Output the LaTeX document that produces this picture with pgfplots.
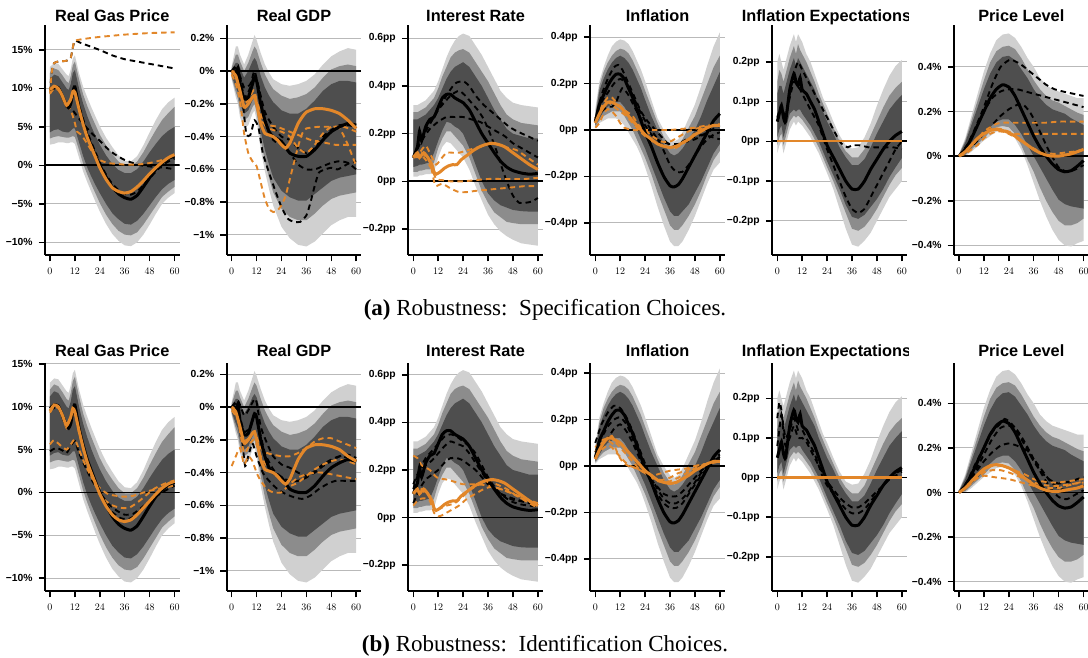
\documentclass[border=0pt]{standalone}
\usepackage{pgfplots}
\pgfplotsset{compat=1.18}
\usepackage{pgfplotstable}
\usepgfplotslibrary{fillbetween}
\usepackage{fontspec}
\setmainfont{Liberation Serif}
\newfontfamily\hv{Liberation Sans}

\definecolor{bandA}{RGB}{208,208,208}
\definecolor{bandB}{RGB}{140,140,140}
\definecolor{bandC}{RGB}{78,78,78}
\definecolor{orng}{RGB}{226,135,42}
\definecolor{gridg}{RGB}{185,185,185}

\pgfplotsset{
  irf/.style={
    scale only axis, width=134.5pt, anchor=south west,
    xmin=-2.4, xmax=62.4,
    axis x line*=bottom, axis y line*=left,
    axis line style={line width=2pt,-},
    every outer x axis line/.append style={-},
    every outer y axis line/.append style={-},
    xtick={0,12,24,36,48,60},
    tick align=outside, major tick length=6.5pt,
    tick style={line width=1.5pt,black},
    ymajorgrids, grid style={line width=1pt,gridg},
    ticklabel style={font=\hv\bfseries\fontsize{10.3}{12}\selectfont},
    xticklabel style={yshift=-3pt},
    yticklabel style={xshift=-2.5pt},
  },
  bd/.style={black, line width=1.9pt, dash pattern=on 5.5pt off 4pt, smooth, tension=0.35},
  od/.style={orng, line width=1.9pt, dash pattern=on 5.5pt off 4pt, smooth, tension=0.35},
  bs/.style={black, line width=3pt, smooth, tension=0.35},
  os/.style={orng, line width=3pt, smooth, tension=0.35},
}

\newcommand{\bands}[1]{%
  \addplot[draw=none, name path=A1] table[x=x,y=a]{#1};
  \addplot[draw=none, name path=A6] table[x=x,y=f]{#1};
  \addplot[fill=bandA, draw=none] fill between[of=A1 and A6];
  \addplot[draw=none, name path=A2] table[x=x,y=b]{#1};
  \addplot[draw=none, name path=A5] table[x=x,y=e]{#1};
  \addplot[fill=bandB, draw=none] fill between[of=A2 and A5];
  \addplot[draw=none, name path=A3] table[x=x,y=c]{#1};
  \addplot[draw=none, name path=A4] table[x=x,y=d]{#1};
  \addplot[fill=bandC, draw=none] fill between[of=A3 and A4];
  \addplot[black, line width=1.8pt] coordinates {(-2.4,0) (62.4,0)};
}

% ---- band tables: x, light low, mid low, dark low, dark high, mid high, light high, median
\pgfplotstableread{
x a b c d e f m
0 2.7 3.5 4.3 11.2 12.0 12.8 9.8
2 2.8 3.7 4.6 11.8 12.6 13.3 10.2
4 3.0 3.8 4.7 11.6 12.4 13.2 10.1
6 3.0 3.7 4.4 10.8 11.7 12.5 9.0
8 2.9 3.6 4.3 10.0 10.9 11.8 7.8
9 2.9 3.6 4.3 9.8 10.7 11.6 7.5
10 3.0 3.7 4.5 10.6 11.6 12.5 8.0
11 3.0 3.8 4.8 12.0 13.0 13.9 9.5
12 2.8 3.7 4.8 12.4 13.5 14.3 10.2
14 1.0 2.0 3.0 10.0 11.2 12.0 7.5
16 -0.8 0.2 1.2 8.0 9.2 10.2 5.5
18 -2.2 -1.2 -0.3 6.4 7.7 8.8 3.8
20 -3.5 -2.5 -1.5 5.0 6.4 7.5 2.5
22 -4.8 -3.7 -2.6 3.8 5.2 6.3 1.2
24 -6.0 -4.9 -3.6 2.7 4.0 5.1 0.0
27 -7.6 -6.4 -5.0 1.3 2.6 3.6 -1.5
30 -8.9 -7.6 -6.2 0.2 1.5 2.4 -2.8
33 -9.8 -8.5 -7.0 -0.6 0.5 1.3 -3.7
36 -10.4 -9.0 -7.6 -1.0 -0.1 0.6 -4.2
39 -10.5 -9.1 -7.7 -1.0 -0.1 0.5 -4.4
42 -10.0 -8.7 -7.2 -0.5 0.5 1.2 -3.9
45 -9.0 -7.7 -6.3 0.5 1.7 2.6 -2.8
48 -7.7 -6.5 -5.2 1.7 3.2 4.3 -1.6
51 -6.3 -5.3 -4.1 2.8 4.6 5.9 -0.5
54 -5.0 -4.1 -3.1 3.8 5.9 7.3 0.3
57 -4.2 -3.4 -2.4 4.5 6.8 8.2 0.9
60 -3.6 -2.8 -1.9 5.0 7.6 8.8 1.2
}\gasB

\pgfplotstableread{
x a b c d e f m
0 -0.05 -0.04 -0.03 0.01 0.02 0.03 0.0
2 -0.16 -0.13 -0.10 0.05 0.10 0.15 -0.02
3 -0.20 -0.17 -0.13 0.05 0.10 0.15 0.02
4 -0.28 -0.24 -0.20 0.02 0.06 0.10 -0.08
6 -0.35 -0.30 -0.26 -0.04 0.00 0.04 -0.17
8 -0.33 -0.28 -0.24 0.00 0.05 0.10 -0.16
10 -0.26 -0.22 -0.18 0.06 0.12 0.18 -0.08
11 -0.24 -0.20 -0.16 0.08 0.15 0.22 -0.04
12 -0.30 -0.25 -0.21 0.06 0.13 0.19 -0.06
14 -0.48 -0.42 -0.37 -0.03 0.05 0.11 -0.20
16 -0.61 -0.55 -0.48 -0.10 -0.02 0.04 -0.30
18 -0.72 -0.65 -0.57 -0.15 -0.07 -0.01 -0.37
20 -0.82 -0.74 -0.65 -0.19 -0.11 -0.05 -0.40
24 -0.95 -0.84 -0.73 -0.24 -0.15 -0.08 -0.43
28 -1.02 -0.89 -0.77 -0.26 -0.17 -0.09 -0.50
32 -1.06 -0.91 -0.79 -0.26 -0.16 -0.08 -0.52
36 -1.07 -0.91 -0.79 -0.23 -0.14 -0.06 -0.52
40 -1.04 -0.87 -0.75 -0.18 -0.10 -0.02 -0.48
44 -0.99 -0.82 -0.71 -0.12 -0.04 0.04 -0.42
48 -0.94 -0.78 -0.67 -0.08 0.01 0.09 -0.37
52 -0.91 -0.76 -0.65 -0.06 0.03 0.12 -0.34
56 -0.89 -0.75 -0.64 -0.06 0.04 0.14 -0.32
60 -0.89 -0.74 -0.63 -0.07 0.03 0.13 -0.33
}\gdpB

\pgfplotstableread{
x a b c d e f m
0 0.02 0.04 0.06 0.26 0.29 0.32 0.10
2 0.02 0.04 0.065 0.26 0.29 0.32 0.145
3 0.025 0.045 0.07 0.265 0.295 0.325 0.21
4 0.025 0.045 0.07 0.27 0.30 0.33 0.17
6 0.03 0.05 0.075 0.28 0.31 0.34 0.23
8 0.03 0.05 0.08 0.30 0.33 0.36 0.26
10 0.04 0.08 0.12 0.32 0.35 0.38 0.27
12 0.10 0.14 0.17 0.35 0.39 0.42 0.31
14 0.145 0.18 0.215 0.39 0.44 0.47 0.35
16 0.166 0.21 0.25 0.43 0.48 0.52 0.365
18 0.16 0.21 0.245 0.46 0.52 0.56 0.365
20 0.14 0.19 0.23 0.48 0.54 0.59 0.35
22 0.12 0.17 0.22 0.49 0.55 0.61 0.34
24 0.10 0.15 0.20 0.50 0.555 0.62 0.33
27 0.05 0.10 0.14 0.48 0.54 0.61 0.30
30 -0.02 0.03 0.07 0.44 0.50 0.57 0.25
33 -0.08 -0.04 0.00 0.40 0.46 0.53 0.20
36 -0.14 -0.09 -0.05 0.35 0.42 0.48 0.16
39 -0.18 -0.13 -0.08 0.30 0.37 0.43 0.12
42 -0.21 -0.15 -0.10 0.26 0.32 0.38 0.085
45 -0.23 -0.17 -0.11 0.22 0.28 0.35 0.06
48 -0.245 -0.175 -0.12 0.20 0.26 0.33 0.045
52 -0.26 -0.18 -0.125 0.19 0.245 0.32 0.035
56 -0.265 -0.18 -0.127 0.18 0.24 0.315 0.03
60 -0.27 -0.18 -0.127 0.18 0.235 0.31 0.033
}\irB

\pgfplotstableread{
x a b c d e f m
0 0.01 0.015 0.02 0.05 0.07 0.09 0.035
2 0.03 0.04 0.05 0.17 0.19 0.21 0.11
4 0.04 0.06 0.08 0.22 0.25 0.27 0.15
6 0.05 0.07 0.10 0.26 0.29 0.32 0.19
8 0.05 0.08 0.11 0.29 0.32 0.36 0.22
10 0.05 0.08 0.12 0.31 0.34 0.38 0.24
12 0.04 0.08 0.12 0.32 0.35 0.39 0.24
14 0.02 0.06 0.10 0.31 0.345 0.385 0.22
16 -0.01 0.03 0.07 0.29 0.33 0.37 0.18
18 -0.04 0.00 0.04 0.26 0.30 0.34 0.14
20 -0.07 -0.04 0.00 0.22 0.26 0.30 0.09
22 -0.11 -0.08 -0.04 0.18 0.22 0.26 0.04
24 -0.16 -0.12 -0.08 0.13 0.17 0.21 -0.01
27 -0.24 -0.19 -0.15 0.06 0.10 0.13 -0.07
30 -0.33 -0.27 -0.22 0.00 0.03 0.05 -0.14
33 -0.41 -0.34 -0.29 -0.06 -0.03 0.00 -0.20
36 -0.48 -0.41 -0.35 -0.10 -0.07 -0.04 -0.24
38 -0.50 -0.43 -0.37 -0.11 -0.08 -0.05 -0.245
40 -0.50 -0.43 -0.37 -0.10 -0.07 -0.04 -0.235
42 -0.48 -0.41 -0.35 -0.08 -0.04 -0.01 -0.21
45 -0.43 -0.37 -0.32 -0.04 0.01 0.05 -0.16
48 -0.37 -0.32 -0.27 0.00 0.06 0.11 -0.11
51 -0.30 -0.26 -0.22 0.06 0.13 0.19 -0.06
54 -0.23 -0.19 -0.16 0.13 0.20 0.28 -0.01
57 -0.17 -0.13 -0.10 0.19 0.27 0.36 0.04
60 -0.14 -0.09 -0.06 0.25 0.32 0.42 0.07
}\infB

\pgfplotstableread{
x a b c d e f m
0 -0.03 -0.01 0.01 0.12 0.15 0.20 0.05
1 -0.01 0.01 0.03 0.14 0.18 0.22 0.07
2 0.00 0.02 0.04 0.14 0.17 0.20 0.09
3 -0.03 -0.01 0.01 0.12 0.15 0.18 0.06
4 -0.01 0.01 0.03 0.14 0.17 0.20 0.05
6 0.03 0.05 0.07 0.18 0.21 0.24 0.13
8 0.05 0.065 0.08 0.21 0.24 0.27 0.17
9 0.04 0.06 0.075 0.19 0.22 0.25 0.15
10 0.05 0.065 0.08 0.21 0.245 0.27 0.14
11 0.045 0.06 0.08 0.20 0.23 0.26 0.16
12 0.04 0.055 0.07 0.19 0.22 0.25 0.13
14 0.025 0.04 0.055 0.17 0.20 0.22 0.12
16 0.01 0.025 0.04 0.15 0.175 0.20 0.10
18 -0.01 0.005 0.02 0.13 0.15 0.17 0.08
20 -0.03 -0.015 0.00 0.10 0.12 0.14 0.05
22 -0.055 -0.04 -0.025 0.075 0.095 0.11 0.02
24 -0.08 -0.065 -0.05 0.05 0.07 0.088 -0.01
27 -0.12 -0.10 -0.085 0.02 0.035 0.05 -0.04
30 -0.17 -0.14 -0.12 -0.015 0.00 0.015 -0.07
33 -0.22 -0.18 -0.16 -0.04 -0.025 -0.01 -0.10
36 -0.26 -0.22 -0.19 -0.06 -0.04 -0.018 -0.12
39 -0.265 -0.225 -0.195 -0.06 -0.04 -0.015 -0.12
42 -0.25 -0.215 -0.185 -0.045 -0.02 0.01 -0.10
45 -0.23 -0.195 -0.165 -0.015 0.015 0.045 -0.07
48 -0.20 -0.17 -0.145 0.02 0.05 0.09 -0.045
51 -0.17 -0.14 -0.12 0.05 0.085 0.13 -0.02
54 -0.14 -0.11 -0.09 0.08 0.115 0.165 0.00
57 -0.12 -0.085 -0.065 0.10 0.135 0.19 0.015
60 -0.10 -0.067 -0.042 0.117 0.15 0.205 0.025
}\ieB

\pgfplotstableread{
x a b c d e f m
0 0.0 0.0 0.0 0.005 0.008 0.01 0.0
3 0.0 0.005 0.01 0.06 0.07 0.08 0.03
6 0.02 0.03 0.04 0.14 0.16 0.18 0.08
9 0.045 0.055 0.065 0.22 0.25 0.28 0.14
12 0.07 0.08 0.10 0.30 0.34 0.38 0.20
15 0.09 0.11 0.13 0.37 0.42 0.46 0.26
18 0.11 0.13 0.155 0.42 0.47 0.52 0.30
21 0.115 0.135 0.165 0.445 0.49 0.545 0.32
24 0.11 0.13 0.165 0.45 0.495 0.55 0.31
27 0.08 0.10 0.14 0.43 0.48 0.53 0.27
30 0.03 0.05 0.10 0.39 0.44 0.49 0.21
33 -0.04 -0.015 0.05 0.35 0.39 0.44 0.15
36 -0.12 -0.07 0.00 0.30 0.34 0.40 0.09
39 -0.20 -0.14 -0.05 0.26 0.30 0.35 0.04
42 -0.27 -0.20 -0.10 0.23 0.27 0.32 0.00
45 -0.33 -0.25 -0.15 0.21 0.25 0.30 -0.035
48 -0.375 -0.29 -0.195 0.20 0.24 0.29 -0.06
51 -0.40 -0.31 -0.215 0.19 0.225 0.28 -0.07
54 -0.405 -0.31 -0.225 0.17 0.21 0.27 -0.065
57 -0.39 -0.30 -0.23 0.155 0.195 0.26 -0.045
60 -0.38 -0.28 -0.235 0.14 0.185 0.26 -0.02
}\plB

\begin{document}
\begin{tikzpicture}

% ================= ROW A =================
\begin{axis}[irf, at={(45pt,403pt)}, height=230pt, ymin=-11.65, ymax=18.25,
  ytick={-10,-5,0,5,10,15}, yticklabels={−10\%,−5\%,0\%,5\%,10\%,15\%}]
\bands{\gasB}
\addplot[bd] coordinates {(0,9.5)(1,12.4)(2,13.3)(4,13.5)(8,13.6)(10,14.0)(11,15.3)(12,16.2)(15,15.9)(18,15.6)(24,15.0)(30,14.3)(36,13.8)(42,13.5)(48,13.2)(54,12.9)(60,12.6)};
\addplot[bd] coordinates {(0,9.6)(2,10.1)(4,9.9)(6,8.8)(8,7.6)(10,7.5)(12,6.8)(16,5.4)(20,4.2)(24,3.2)(28,2.1)(32,1.3)(36,0.7)(40,0.3)(44,0.0)(50,-0.2)(55,-0.3)(60,-0.5)};
\addplot[bd] coordinates {(0,9.7)(2,10.0)(4,9.8)(6,8.9)(8,7.7)(10,8.3)(11,9.3)(12,9.9)(14,7.8)(16,6.0)(18,4.3)(21,2.3)(24,0.4)(27,-1.2)(30,-2.4)(33,-3.2)(36,-3.7)(39,-3.8)(42,-3.4)(45,-2.6)(48,-1.7)(51,-0.8)(54,0.0)(57,0.5)(60,0.9)};
\addplot[od] coordinates {(0,9.5)(1,12.4)(2,13.3)(4,13.5)(8,13.6)(10,14.0)(11,15.3)(12,16.2)(18,16.5)(24,16.7)(36,17.0)(48,17.2)(60,17.3)};
\addplot[od] coordinates {(0,9.3)(2,10.0)(4,9.8)(6,8.8)(8,7.8)(10,7.2)(12,5.5)(13,4.4)(15,4.0)(18,2.8)(21,1.5)(24,0.7)(28,0.3)(32,0.2)(36,0.1)(42,0.1)(48,0.3)(54,0.7)(60,1.2)};
\addplot[bs] table[x=x,y=m]{\gasB};
\addplot[os] coordinates {(0,9.8)(2,10.3)(4,10.0)(6,9.0)(8,7.8)(10,8.6)(11,9.6)(12,9.5)(14,7.3)(16,5.3)(18,3.6)(20,2.3)(22,1.0)(24,-0.3)(27,-1.8)(30,-2.9)(33,-3.4)(36,-3.6)(39,-3.4)(42,-2.8)(45,-2.0)(48,-1.1)(51,-0.3)(54,0.4)(57,1.0)(60,1.4)};
\end{axis}

\begin{axis}[irf, at={(226.7pt,403pt)}, height=230pt, ymin=-1.122, ymax=0.281,
  ytick={-1,-0.8,-0.6,-0.4,-0.2,0,0.2}, yticklabels={−1\%,−0.8\%,−0.6\%,−0.4\%,−0.2\%,0\%,0.2\%}]
\bands{\gdpB}
\addplot[bd] coordinates {(0,0)(3,0.02)(5,-0.15)(7,-0.38)(9,-0.39)(11,-0.3)(13,-0.35)(15,-0.5)(18,-0.62)(21,-0.73)(24,-0.83)(27,-0.9)(30,-0.92)(33,-0.92)(36,-0.88)(38,-0.8)(40,-0.7)(42,-0.62)(45,-0.6)(48,-0.59)(51,-0.6)(54,-0.58)(57,-0.56)(60,-0.55)};
\addplot[bd] coordinates {(0,0)(3,0.03)(6,-0.16)(9,-0.1)(11,-0.02)(13,-0.1)(16,-0.3)(20,-0.42)(24,-0.45)(28,-0.5)(32,-0.57)(36,-0.6)(40,-0.6)(44,-0.58)(48,-0.56)(52,-0.55)(56,-0.56)(60,-0.6)};
\addplot[bd] coordinates {(0,0)(3,0.0)(6,-0.1)(9,-0.08)(11,0.0)(13,-0.1)(16,-0.25)(20,-0.34)(24,-0.4)(28,-0.42)(32,-0.47)(36,-0.5)(40,-0.47)(44,-0.4)(48,-0.36)(52,-0.33)(56,-0.33)(60,-0.34)};
\addplot[od] coordinates {(0,-0.02)(2,-0.08)(4,-0.18)(6,-0.38)(8,-0.5)(10,-0.55)(12,-0.58)(14,-0.68)(16,-0.78)(18,-0.84)(20,-0.86)(22,-0.85)(24,-0.82)(26,-0.76)(28,-0.66)(30,-0.56)(32,-0.46)(34,-0.38)(36,-0.35)(42,-0.34)(48,-0.34)(54,-0.34)(60,-0.37)};
\addplot[od] coordinates {(0,0)(3,-0.05)(6,-0.2)(9,-0.15)(11,-0.12)(14,-0.3)(18,-0.33)(22,-0.34)(26,-0.36)(30,-0.38)(34,-0.4)(38,-0.42)(42,-0.43)(46,-0.44)(50,-0.45)(55,-0.45)(60,-0.45)};
\addplot[od] coordinates {(0,0)(3,-0.02)(6,-0.18)(9,-0.14)(12,-0.18)(16,-0.33)(20,-0.36)(24,-0.37)(28,-0.4)(32,-0.47)(36,-0.5)(40,-0.45)(44,-0.38)(48,-0.34)(52,-0.35)(56,-0.45)(60,-0.58)};
\addplot[bs] table[x=x,y=m]{\gdpB};
\addplot[os] coordinates {(0,0)(2,-0.03)(4,-0.12)(6,-0.22)(8,-0.2)(10,-0.16)(11,-0.15)(12,-0.2)(14,-0.32)(16,-0.38)(18,-0.39)(20,-0.4)(22,-0.42)(24,-0.45)(26,-0.47)(28,-0.44)(30,-0.38)(32,-0.32)(34,-0.28)(36,-0.25)(40,-0.23)(44,-0.23)(48,-0.24)(52,-0.26)(56,-0.3)(60,-0.35)};
\end{axis}

\begin{axis}[irf, at={(408.3pt,403pt)}, height=230pt, ymin=-0.309, ymax=0.656,
  ytick={-0.2,0,0.2,0.4,0.6}, yticklabels={−0.2pp,0pp,0.2pp,0.4pp,0.6pp}]
\bands{\irB}
\addplot[bd] coordinates {(0,0.1)(4,0.18)(8,0.24)(12,0.3)(16,0.36)(20,0.41)(24,0.42)(27,0.4)(30,0.36)(34,0.32)(38,0.29)(42,0.26)(46,0.23)(50,0.21)(55,0.19)(60,0.17)};
\addplot[bd] coordinates {(0,0.1)(4,0.17)(8,0.22)(12,0.25)(16,0.27)(20,0.27)(24,0.27)(28,0.26)(32,0.25)(36,0.23)(40,0.21)(44,0.19)(48,0.16)(52,0.14)(56,0.12)(60,0.1)};
\addplot[bd] coordinates {(0,0.1)(6,0.22)(12,0.3)(18,0.36)(22,0.38)(25,0.36)(28,0.33)(31,0.3)(34,0.26)(37,0.2)(40,0.13)(43,0.05)(45,0.0)(48,-0.06)(51,-0.09)(54,-0.09)(57,-0.085)(60,-0.07)};
\addplot[od] coordinates {(0,0.1)(3,0.12)(6,0.15)(9,0.1)(11,0.07)(13,0.09)(16,0.12)(19,0.12)(22,0.12)(26,0.13)(30,0.14)(34,0.15)(38,0.16)(42,0.15)(46,0.14)(50,0.13)(55,0.1)(60,0.07)};
\addplot[od] coordinates {(0,0.1)(4,0.12)(8,0.08)(10,0.0)(11,-0.02)(14,-0.01)(18,-0.03)(22,-0.045)(26,-0.045)(30,-0.04)(36,-0.035)(42,-0.03)(48,-0.025)(54,-0.02)(60,-0.02)};
\addplot[od] coordinates {(0,0.1)(5,0.1)(9,0.05)(11,0.01)(14,0.005)(18,0.0)(24,0.0)(30,0.005)(36,0.01)(42,0.01)(48,0.01)(54,0.01)(60,0.015)};
\addplot[bs] table[x=x,y=m]{\irB};
\addplot[os] coordinates {(0,0.1)(2,0.12)(3,0.1)(5,0.12)(7,0.1)(9,0.07)(10,0.04)(11,0.03)(13,0.04)(15,0.055)(17,0.065)(19,0.07)(21,0.07)(23,0.09)(26,0.11)(29,0.13)(32,0.145)(35,0.155)(38,0.16)(41,0.155)(44,0.145)(48,0.12)(52,0.095)(56,0.07)(60,0.05)};
\end{axis}

\begin{axis}[irf, at={(590.3pt,403pt)}, height=230pt, ymin=-0.538, ymax=0.452,
  ytick={-0.4,-0.2,0,0.2,0.4}, yticklabels={−0.4pp,−0.2pp,0pp,0.2pp,0.4pp}]
\bands{\infB}
\addplot[bd] coordinates {(0,0.04)(3,0.15)(6,0.22)(9,0.27)(11,0.28)(13,0.26)(16,0.2)(19,0.14)(22,0.08)(25,0.04)(28,0.01)(31,-0.02)(34,-0.05)(37,-0.07)(40,-0.06)(44,-0.04)(48,-0.03)(52,-0.02)(56,-0.03)(60,-0.04)};
\addplot[bd] coordinates {(0,0.04)(3,0.12)(6,0.16)(9,0.2)(12,0.22)(15,0.2)(18,0.15)(21,0.09)(24,0.04)(27,0.0)(30,-0.04)(33,-0.09)(36,-0.15)(39,-0.18)(42,-0.18)(45,-0.15)(48,-0.11)(51,-0.07)(54,-0.04)(57,-0.02)(60,-0.01)};
\addplot[bd] coordinates {(0,0.05)(3,0.08)(6,0.1)(8,0.1)(10,0.12)(13,0.18)(16,0.15)(20,0.08)(24,0.02)(28,-0.03)(32,-0.05)(36,-0.06)(40,-0.06)(44,-0.05)(48,-0.04)(52,-0.02)(56,0.0)(60,0.02)};
\addplot[od] coordinates {(0,0.05)(3,0.1)(6,0.14)(8,0.14)(10,0.12)(12,0.1)(15,0.08)(18,0.06)(21,0.02)(24,0.0)(28,-0.03)(32,-0.05)(36,-0.05)(40,-0.03)(44,-0.01)(48,0.005)(54,0.015)(60,0.02)};
\addplot[od] coordinates {(0,0.01)(2,0.03)(4,0.07)(6,0.09)(8,0.08)(10,0.06)(12,0.03)(14,0.01)(18,0.0)(22,0.0)(26,0.0)(30,0.0)(36,0.0)(42,0.005)(48,0.01)(54,0.02)(60,0.025)};
\addplot[od] coordinates {(0,0.05)(3,0.09)(6,0.12)(9,0.1)(12,0.08)(15,0.06)(18,0.03)(22,-0.01)(26,-0.04)(30,-0.06)(34,-0.07)(38,-0.08)(42,-0.06)(46,-0.03)(50,0.0)(55,0.015)(60,0.02)};
\addplot[bs] table[x=x,y=m]{\infB};
\addplot[os] coordinates {(0,0.03)(2,0.07)(4,0.1)(6,0.12)(8,0.12)(10,0.11)(12,0.1)(14,0.08)(16,0.06)(18,0.04)(20,0.02)(22,0.0)(24,-0.02)(27,-0.04)(30,-0.06)(33,-0.07)(36,-0.075)(39,-0.07)(42,-0.055)(45,-0.04)(48,-0.02)(51,-0.005)(54,0.01)(57,0.02)(60,0.02)};
\end{axis}

\begin{axis}[irf, at={(772.3pt,403pt)}, height=230pt, ymin=-0.286, ymax=0.293,
  ytick={-0.2,-0.1,0,0.1,0.2}, yticklabels={−0.2pp,−0.1pp,0pp,0.1pp,0.2pp}]
\bands{\ieB}
\addplot[bd] coordinates {(0,0.06)(2,0.09)(4,0.06)(6,0.12)(8,0.17)(10,0.2)(12,0.18)(14,0.16)(16,0.14)(18,0.12)(20,0.1)(22,0.08)(24,0.06)(26,0.04)(28,0.02)(30,0.0)(32,-0.01)(34,-0.015)(36,-0.01)(40,-0.01)(44,-0.015)(48,-0.015)(52,-0.015)(56,-0.015)(60,-0.02)};
\addplot[bd] coordinates {(0,0.05)(2,0.08)(4,0.06)(6,0.11)(8,0.15)(10,0.14)(12,0.12)(14,0.1)(16,0.08)(18,0.06)(20,0.04)(22,0.01)(24,-0.02)(27,-0.06)(30,-0.1)(33,-0.14)(36,-0.17)(39,-0.18)(42,-0.17)(45,-0.14)(48,-0.11)(51,-0.08)(54,-0.05)(57,-0.02)(60,0.0)};
\addplot[bs] table[x=x,y=m]{\ieB};
\addplot[orng, line width=2.2pt] coordinates {(0,0)(60,0)};
\end{axis}

\begin{axis}[irf, at={(954pt,403pt)}, height=230pt, ymin=-0.443, ymax=0.588,
  ytick={-0.4,-0.2,0,0.2,0.4}, yticklabels={−0.4\%,−0.2\%,0\%,0.2\%,0.4\%}]
\bands{\plB}
\addplot[bd] coordinates {(0,0)(4,0.05)(8,0.13)(12,0.22)(16,0.32)(20,0.4)(24,0.43)(26,0.43)(30,0.41)(34,0.38)(38,0.35)(42,0.32)(46,0.3)(50,0.29)(55,0.28)(60,0.27)};
\addplot[bd] coordinates {(0,0)(4,0.05)(8,0.12)(12,0.2)(16,0.26)(20,0.29)(24,0.3)(28,0.3)(32,0.29)(36,0.28)(40,0.27)(44,0.26)(48,0.25)(52,0.24)(56,0.23)(60,0.22)};
\addplot[bd] coordinates {(0,0)(4,0.03)(8,0.06)(12,0.1)(16,0.14)(20,0.18)(24,0.21)(28,0.23)(31,0.23)(34,0.2)(37,0.15)(40,0.09)(43,0.03)(46,-0.02)(48,-0.05)(52,-0.07)(56,-0.06)(60,-0.04)};
\addplot[od] coordinates {(0,0)(3,0.02)(6,0.05)(9,0.08)(12,0.11)(15,0.13)(18,0.145)(21,0.15)(24,0.15)(30,0.15)(36,0.15)(42,0.15)(48,0.155)(54,0.155)(60,0.155)};
\addplot[od] coordinates {(0,0)(3,0.02)(6,0.05)(9,0.08)(12,0.105)(15,0.12)(18,0.125)(21,0.12)(24,0.11)(27,0.1)(30,0.1)(36,0.1)(42,0.1)(48,0.1)(54,0.1)(60,0.1)};
\addplot[od] coordinates {(0,0)(3,0.01)(6,0.03)(9,0.05)(12,0.08)(15,0.1)(18,0.11)(21,0.11)(24,0.1)(27,0.085)(30,0.065)(34,0.045)(38,0.025)(42,0.015)(46,0.01)(50,0.015)(55,0.02)(60,0.03)};
\addplot[bs] table[x=x,y=m]{\plB};
\addplot[os] coordinates {(0,0)(3,0.02)(6,0.05)(9,0.08)(12,0.1)(15,0.115)(18,0.12)(21,0.115)(24,0.105)(27,0.09)(30,0.07)(33,0.05)(36,0.03)(39,0.015)(42,0.005)(45,0.0)(48,0.0)(51,0.005)(54,0.01)(57,0.02)(60,0.03)};
\end{axis}

% ================= ROW B =================
\begin{axis}[irf, at={(45pt,67pt)}, height=228pt, ymin=-11.5, ymax=15.1,
  ytick={-10,-5,0,5,10,15}, yticklabels={−10\%,−5\%,0\%,5\%,10\%,15\%}]
\bands{\gasB}
\addplot[bd] coordinates {(0,4.8)(3,5.2)(6,4.9)(8,4.6)(10,5.4)(12,6.0)(14,4.6)(17,3.0)(20,1.5)(24,0.0)(28,-1.3)(32,-2.1)(36,-2.6)(40,-2.5)(44,-1.8)(48,-1.0)(54,0.0)(60,0.8)};
\addplot[bd] coordinates {(0,9.6)(4,9.9)(8,7.7)(11,9.6)(12,9.8)(14,7.4)(18,3.6)(22,1.0)(26,-1.0)(30,-2.3)(34,-3.0)(38,-3.1)(42,-2.5)(46,-1.5)(50,-0.5)(55,0.5)(60,1.1)};
\addplot[od] coordinates {(0,9.3)(2,10.0)(5,9.6)(8,7.5)(10,8.5)(12,9.2)(14,7.0)(18,3.2)(22,0.8)(26,-0.8)(30,-1.5)(34,-1.8)(38,-1.8)(42,-1.2)(46,-0.4)(50,0.4)(55,1.0)(60,1.4)};
\addplot[od] coordinates {(0,5.6)(2,6.1)(5,5.5)(8,5.0)(10,5.6)(12,6.2)(14,5.0)(17,3.2)(20,1.8)(24,0.5)(28,-0.2)(32,-0.4)(36,-0.5)(40,-0.4)(44,-0.1)(48,0.2)(54,0.5)(60,0.8)};
\addplot[bs] table[x=x,y=m]{\gasB};
\addplot[os] coordinates {(0,9.5)(2,10.2)(4,10.0)(6,9.0)(8,7.8)(10,8.8)(11,9.8)(12,9.4)(14,7.2)(16,5.2)(18,3.5)(20,2.2)(22,1.0)(24,-0.2)(27,-1.6)(30,-2.6)(33,-3.2)(36,-3.4)(39,-3.2)(42,-2.6)(45,-1.8)(48,-1.0)(51,-0.2)(54,0.5)(57,1.0)(60,1.3)};
\end{axis}

\begin{axis}[irf, at={(226.7pt,67pt)}, height=228pt, ymin=-1.122, ymax=0.269,
  ytick={-1,-0.8,-0.6,-0.4,-0.2,0,0.2}, yticklabels={−1\%,−0.8\%,−0.6\%,−0.4\%,−0.2\%,0\%,0.2\%}]
\bands{\gdpB}
\addplot[bd] coordinates {(0,0)(3,0.02)(5,-0.2)(6.5,-0.36)(8,-0.3)(10,-0.22)(12,-0.3)(15,-0.4)(18,-0.45)(22,-0.5)(26,-0.53)(30,-0.55)(34,-0.56)(38,-0.54)(42,-0.5)(46,-0.47)(50,-0.45)(55,-0.45)(60,-0.45)};
\addplot[bd] coordinates {(0,0)(3,0.04)(6,-0.05)(8,-0.02)(11,0.05)(12,0.03)(14,-0.12)(17,-0.22)(20,-0.3)(24,-0.35)(28,-0.37)(32,-0.4)(36,-0.42)(40,-0.4)(44,-0.36)(48,-0.33)(52,-0.3)(56,-0.29)(60,-0.31)};
\addplot[bd] coordinates {(0,0)(3,-0.02)(6,-0.15)(9,-0.12)(11,-0.05)(13,-0.12)(16,-0.28)(20,-0.38)(24,-0.43)(28,-0.45)(32,-0.45)(36,-0.43)(40,-0.39)(44,-0.35)(48,-0.32)(52,-0.3)(56,-0.31)(60,-0.33)};
\addplot[od] coordinates {(0,-0.36)(2,-0.3)(4,-0.25)(6,-0.35)(8,-0.3)(10,-0.33)(12,-0.4)(14,-0.45)(17,-0.5)(20,-0.52)(24,-0.52)(28,-0.47)(32,-0.43)(36,-0.41)(40,-0.4)(44,-0.4)(48,-0.41)(52,-0.42)(56,-0.43)(60,-0.44)};
\addplot[od] coordinates {(0,0)(3,-0.03)(6,-0.2)(9,-0.18)(11,-0.15)(14,-0.25)(17,-0.28)(20,-0.29)(24,-0.3)(28,-0.3)(32,-0.28)(36,-0.25)(40,-0.21)(44,-0.19)(48,-0.19)(52,-0.21)(56,-0.23)(60,-0.25)};
\addplot[od] coordinates {(0,-0.02)(3,-0.08)(6,-0.28)(9,-0.22)(11,-0.2)(14,-0.3)(17,-0.36)(20,-0.4)(24,-0.45)(28,-0.48)(32,-0.46)(36,-0.42)(40,-0.38)(44,-0.35)(48,-0.33)(52,-0.32)(56,-0.33)(60,-0.35)};
\addplot[bs] table[x=x,y=m]{\gdpB};
\addplot[os] coordinates {(0,0)(2,-0.03)(4,-0.12)(6,-0.22)(8,-0.2)(10,-0.16)(11,-0.15)(12,-0.2)(14,-0.32)(16,-0.38)(18,-0.39)(20,-0.4)(22,-0.42)(24,-0.45)(26,-0.47)(28,-0.44)(30,-0.38)(32,-0.32)(34,-0.28)(36,-0.25)(40,-0.23)(44,-0.23)(48,-0.24)(52,-0.26)(56,-0.3)(60,-0.33)};
\end{axis}

\begin{axis}[irf, at={(408.3pt,67pt)}, height=228pt, ymin=-0.309, ymax=0.650,
  ytick={-0.2,0,0.2,0.4,0.6}, yticklabels={−0.2pp,0pp,0.2pp,0.4pp,0.6pp}]
\bands{\irB}
\addplot[bd] coordinates {(0,0.12)(3,0.2)(6,0.25)(9,0.28)(12,0.31)(15,0.34)(18,0.35)(21,0.34)(24,0.32)(27,0.3)(30,0.27)(33,0.22)(36,0.17)(39,0.13)(42,0.1)(45,0.08)(48,0.065)(52,0.055)(56,0.05)(60,0.045)};
\addplot[bd] coordinates {(0,0.14)(3,0.2)(6,0.22)(9,0.24)(12,0.27)(15,0.3)(18,0.32)(21,0.31)(24,0.3)(27,0.27)(30,0.23)(33,0.19)(36,0.15)(39,0.12)(42,0.1)(45,0.085)(48,0.075)(52,0.068)(56,0.065)(60,0.06)};
\addplot[bd] coordinates {(0,0.06)(3,0.12)(6,0.16)(9,0.18)(12,0.2)(15,0.23)(18,0.25)(21,0.25)(24,0.24)(27,0.22)(30,0.2)(33,0.17)(36,0.14)(39,0.12)(42,0.1)(45,0.09)(48,0.08)(52,0.07)(56,0.06)(60,0.055)};
\addplot[od] coordinates {(0,0.26)(2,0.25)(4,0.22)(6,0.21)(8,0.2)(10,0.18)(12,0.165)(16,0.16)(20,0.15)(24,0.14)(30,0.14)(36,0.135)(42,0.12)(48,0.1)(54,0.08)(60,0.06)};
\addplot[od] coordinates {(0,0.05)(2,0.07)(4,0.08)(6,0.08)(8,0.07)(10,0.02)(12,0.005)(14,0.01)(18,0.03)(22,0.05)(26,0.08)(30,0.1)(34,0.12)(38,0.13)(42,0.12)(48,0.1)(54,0.07)(60,0.04)};
\addplot[od] coordinates {(0,0.1)(2,0.12)(4,0.12)(6,0.1)(8,0.09)(10,0.04)(12,0.035)(16,0.05)(20,0.06)(24,0.09)(28,0.12)(32,0.14)(36,0.15)(40,0.14)(45,0.12)(50,0.09)(55,0.07)(60,0.05)};
\addplot[bs] table[x=x,y=m]{\irB};
\addplot[os] coordinates {(0,0.1)(2,0.12)(3,0.1)(5,0.12)(7,0.1)(9,0.07)(10,0.04)(11,0.03)(13,0.04)(15,0.055)(17,0.065)(19,0.07)(21,0.07)(23,0.09)(26,0.11)(29,0.13)(32,0.145)(35,0.155)(38,0.16)(41,0.155)(44,0.145)(48,0.12)(52,0.095)(56,0.07)(60,0.05)};
\end{axis}

\begin{axis}[irf, at={(590.3pt,67pt)}, height=228pt, ymin=-0.538, ymax=0.444,
  ytick={-0.4,-0.2,0,0.2,0.4}, yticklabels={−0.4pp,−0.2pp,0pp,0.2pp,0.4pp}]
\bands{\infB}
\addplot[bd] coordinates {(0,0.1)(3,0.18)(6,0.23)(9,0.26)(12,0.25)(15,0.21)(18,0.15)(21,0.08)(24,0.01)(27,-0.05)(30,-0.1)(33,-0.14)(36,-0.16)(39,-0.16)(42,-0.14)(45,-0.11)(48,-0.07)(51,-0.03)(54,0.0)(57,0.03)(60,0.05)};
\addplot[bd] coordinates {(0,0.06)(3,0.12)(6,0.17)(9,0.2)(12,0.21)(15,0.18)(18,0.12)(21,0.05)(24,-0.01)(27,-0.07)(30,-0.12)(33,-0.16)(36,-0.18)(39,-0.18)(42,-0.16)(45,-0.12)(48,-0.08)(51,-0.04)(54,-0.01)(57,0.02)(60,0.04)};
\addplot[bd] coordinates {(0,0.04)(3,0.09)(6,0.12)(9,0.16)(12,0.18)(15,0.15)(18,0.1)(21,0.04)(24,-0.02)(27,-0.06)(30,-0.09)(33,-0.12)(36,-0.13)(39,-0.13)(42,-0.11)(45,-0.08)(48,-0.05)(51,-0.02)(54,0.0)(57,0.02)(60,0.03)};
\addplot[od] coordinates {(0,0.08)(3,0.11)(6,0.12)(8,0.13)(10,0.1)(12,0.08)(15,0.05)(18,0.02)(21,-0.01)(24,-0.03)(27,-0.05)(30,-0.065)(33,-0.07)(36,-0.065)(40,-0.05)(44,-0.03)(48,-0.01)(52,0.005)(56,0.015)(60,0.02)};
\addplot[od] coordinates {(0,0.04)(3,0.07)(6,0.09)(8,0.08)(10,0.06)(12,0.04)(14,0.02)(17,0.0)(20,-0.01)(24,-0.03)(28,-0.04)(32,-0.03)(36,-0.02)(40,-0.015)(44,-0.01)(48,0.0)(54,0.01)(60,0.02)};
\addplot[od] coordinates {(0,0.06)(3,0.1)(6,0.11)(9,0.09)(11,0.05)(13,0.02)(16,0.0)(20,-0.01)(24,-0.03)(28,-0.05)(32,-0.06)(36,-0.05)(40,-0.03)(44,-0.02)(48,0.0)(54,0.01)(60,0.02)};
\addplot[bs] table[x=x,y=m]{\infB};
\addplot[os] coordinates {(0,0.03)(2,0.07)(4,0.1)(6,0.12)(8,0.12)(10,0.11)(12,0.1)(14,0.08)(16,0.06)(18,0.04)(20,0.02)(22,0.0)(24,-0.02)(27,-0.04)(30,-0.06)(33,-0.07)(36,-0.075)(39,-0.07)(42,-0.055)(45,-0.04)(48,-0.02)(51,-0.005)(54,0.01)(57,0.02)(60,0.02)};
\end{axis}

\begin{axis}[irf, at={(772.3pt,67pt)}, height=228pt, ymin=-0.286, ymax=0.289,
  ytick={-0.2,-0.1,0,0.1,0.2}, yticklabels={−0.2pp,−0.1pp,0pp,0.1pp,0.2pp}]
\bands{\ieB}
\addplot[bd] coordinates {(0,0.15)(1,0.19)(2,0.17)(3,0.11)(4,0.08)(6,0.1)(8,0.13)(10,0.1)(12,0.1)(14,0.09)(16,0.07)(18,0.05)(20,0.03)(22,0.01)(24,-0.01)(27,-0.03)(30,-0.05)(33,-0.065)(36,-0.075)(39,-0.075)(42,-0.065)(45,-0.05)(48,-0.035)(51,-0.02)(54,-0.005)(57,0.005)(60,0.015)};
\addplot[bd] coordinates {(0,0.08)(1,0.12)(2,0.16)(3,0.13)(4,0.1)(6,0.12)(8,0.15)(10,0.12)(12,0.12)(14,0.1)(16,0.08)(18,0.06)(20,0.03)(22,0.0)(24,-0.02)(27,-0.04)(30,-0.06)(33,-0.08)(36,-0.09)(39,-0.09)(42,-0.08)(45,-0.06)(48,-0.04)(51,-0.02)(54,0.0)(57,0.01)(60,0.02)};
\addplot[bs] table[x=x,y=m]{\ieB};
\addplot[orng, line width=2.2pt] coordinates {(0,0)(60,0)};
\end{axis}

\begin{axis}[irf, at={(954pt,67pt)}, height=228pt, ymin=-0.442, ymax=0.581,
  ytick={-0.4,-0.2,0,0.2,0.4}, yticklabels={−0.4\%,−0.2\%,0\%,0.2\%,0.4\%}]
\bands{\plB}
\addplot[bd] coordinates {(0,0)(4,0.05)(8,0.13)(12,0.2)(16,0.27)(20,0.31)(22,0.33)(24,0.32)(27,0.29)(30,0.24)(33,0.19)(36,0.14)(39,0.1)(42,0.07)(45,0.05)(48,0.04)(51,0.045)(54,0.05)(57,0.06)(60,0.07)};
\addplot[bd] coordinates {(0,0)(4,0.04)(8,0.09)(12,0.14)(16,0.18)(20,0.21)(24,0.22)(28,0.21)(32,0.19)(36,0.15)(40,0.1)(44,0.05)(48,0.02)(52,0.01)(56,0.02)(60,0.03)};
\addplot[bd] coordinates {(0,0)(4,0.04)(8,0.1)(12,0.17)(16,0.24)(20,0.29)(24,0.3)(28,0.28)(32,0.22)(36,0.15)(40,0.08)(44,0.02)(48,-0.02)(52,-0.03)(56,-0.01)(60,0.01)};
\addplot[od] coordinates {(0,0)(4,0.03)(8,0.06)(12,0.075)(16,0.07)(20,0.065)(24,0.06)(28,0.05)(32,0.04)(36,0.03)(40,0.025)(44,0.02)(48,0.02)(52,0.03)(56,0.04)(60,0.05)};
\addplot[od] coordinates {(0,0)(4,0.03)(8,0.07)(12,0.1)(16,0.12)(20,0.12)(24,0.11)(28,0.095)(32,0.08)(36,0.06)(40,0.05)(44,0.045)(48,0.045)(52,0.05)(56,0.055)(60,0.06)};
\addplot[od] coordinates {(0,0)(4,0.025)(8,0.06)(12,0.09)(16,0.1)(20,0.1)(24,0.09)(28,0.075)(32,0.06)(36,0.045)(40,0.035)(44,0.03)(48,0.03)(52,0.035)(56,0.04)(60,0.045)};
\addplot[bs] table[x=x,y=m]{\plB};
\addplot[os] coordinates {(0,0)(3,0.02)(6,0.05)(9,0.08)(12,0.105)(15,0.12)(18,0.125)(21,0.12)(24,0.11)(27,0.095)(30,0.075)(33,0.055)(36,0.035)(39,0.02)(42,0.01)(45,0.005)(48,0.005)(51,0.01)(54,0.015)(57,0.02)(60,0.03)};
\end{axis}

% ================= titles and captions =================
\tikzset{ttl/.style={font=\hv\bfseries\fontsize{16.3}{18}\selectfont, anchor=base, inner sep=0pt}}
\foreach \yy in {636.3, 301.3} {
  \node[ttl] at (112.3pt,\yy pt) {Real Gas Price};
  \node[ttl] at (294pt,\yy pt) {Real GDP};
  \node[ttl] at (475.6pt,\yy pt) {Interest Rate};
  \node[ttl] at (657.6pt,\yy pt) {Inflation};
  \node[ttl] at (1021.3pt,\yy pt) {Price Level};
  \begin{scope}
    \clip (700pt,\yy pt-20pt) rectangle (908pt,\yy pt+30pt);
    \node[ttl] at (826.5pt,\yy pt) {Inflation Expectations};
  \end{scope}
}
\node[anchor=base, inner sep=0pt, font=\fontsize{23}{26}\selectfont] at (545pt,342pt) {\textbf{(a)} Robustness:\hspace{4pt} Specification Choices.};
\node[anchor=base, inner sep=0pt, font=\fontsize{23}{26}\selectfont] at (545pt,6pt) {\textbf{(b)} Robustness:\hspace{4pt} Identification Choices.};
\pgfresetboundingbox
\path[use as bounding box] (0,0) rectangle (1088pt,658pt);
\end{tikzpicture}
\end{document}
